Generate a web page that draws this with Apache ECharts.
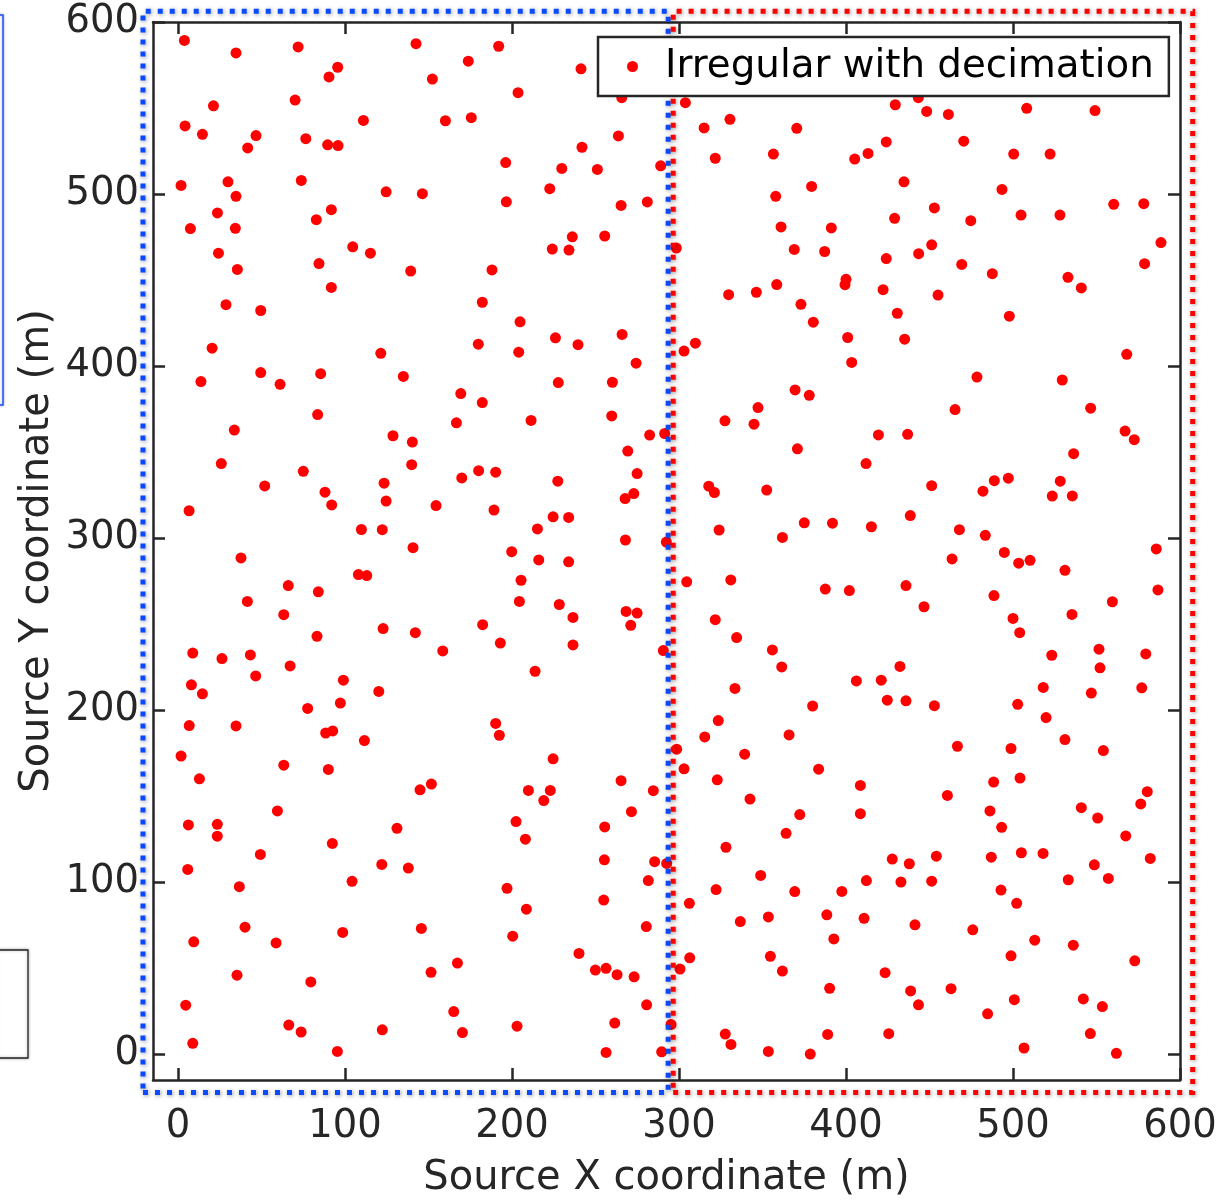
<!DOCTYPE html>
<html>
<head>
<meta charset="utf-8">
<script src="https://cdn.jsdelivr.net/npm/echarts@6/dist/echarts.min.js"></script>
<style>
html,body{margin:0;padding:0;background:#ffffff;}
#chart{width:1221px;height:1204px;}
</style>
</head>
<body>
<div id="chart"></div>
<script>
// ---- data ----
const seriesName = 'Irregular with decimation';
const xAxisTitle = 'Source X coordinate (m)';
const yAxisTitle = 'Source Y coordinate (m)';
const tickValues = [0, 100, 200, 300, 400, 500, 600];
const axisRange = [-15, 600];

// blue dotted frame (left half) and red dotted frame (right half), in data units
const blueFrameX = [-21, 293.5];
const redFrameX = [296.5, 607.6];
const frameY = [-22.3, 606.3];

// source points
const pointsLeftTop = [
[3.8,589.3],[34.7,582],[71.9,585.5],[142.5,587.4],[192,585.9],[95.6,573.7],[90.4,568.1],[173.8,577.2],[152.3,566.8],[21.2,551.3],
[70.1,554.6],[4.2,539.6],[14.6,534.7],[46.7,534],[41.7,526.8],[76.5,532.2],[89.6,528.6],[95.8,528.2],[111,542.8],[160.1,542.6],
[175.6,544.4],[1.8,505],[29.9,507.1],[34.7,498.7],[73.8,507.9],[124.6,501.3],[146.3,500.2],[23.6,489],[7.4,479.9],[34.3,480.1],
[91.8,490.9],[82.8,485.1],[24.2,465.6],[35.5,456.2],[104.6,469.3],[115.2,465.6],[84.4,459.6],[91.8,445.7],[139.3,455.2],[188,455.9],
[28.7,435.7],[49.5,432.3],[182.2,437.1],[20.4,410.4],[121.4,407.4],[179.8,412.7],[49.5,396.2],[85.4,395.6],[134.9,394],[13.7,391]
];
const pointsLeftMid = [
[61.1,389.4],[169.3,384],[182.2,378.8],[83.6,371.8],[166.7,367],[33.7,362.8],[128.7,359.5],[140.3,355.8],[25.9,343.3],[75,338.8],
[139.9,342.7],[180,339.2],[190.2,338.3],[169.9,335],[51.9,330.3],[123.4,331.9],[88,326.7],[92,319.3],[124.6,321.5],[154.5,318.9],
[189.2,316.3],[6.6,315.9],[109.8,305],[122.3,304.9],[140.7,294.4],[37.7,288.5],[108,278.8],[113,278.2],[66,272.4],[84,268.8],
[41.5,263.2],[63.3,255.5],[122.8,247.4],[142.1,245],[182.4,249.7],[193,239],[83.2,242.9],[158.5,234.4],[8.8,233.2],[26.3,230],
[43.3,232.1],[67.1,225.7],[46.5,219.9],[8,214.7],[14.6,209.5],[99,217.4],[120.2,210.9],[77.6,201],[97.2,204.1],[6.7,191],
[34.7,190.8],[190.2,192.3]
];
const pointsLeftLow = [
[88.4,186.7],[92.6,187.9],[111.6,182.3],[192.4,185.4],[1.8,173.3],[63.3,168],[90,165.5],[12.8,160.1],[144.9,153.7],[151.7,157],
[59.5,141.4],[6.2,133.3],[23.5,133.6],[23.5,126.7],[131.1,131.3],[92.4,122.5],[49.3,116.1],[122,110.3],[137.9,108.2],[5.8,107.4],
[104.2,100.5],[36.7,97.4],[40.1,73.8],[9.4,65.3],[58.7,64.7],[98.6,70.8],[145.7,73.1],[167.3,53],[151.5,47.6],[35.3,45.9],
[79.5,42],[4.6,28.5],[165.1,24.8],[170.3,12.6],[66.3,16.9],[73.7,12.9],[122.3,14.2],[8.8,6.3],[95.4,1.6]
];
const pointsCenterTop = [
[241.3,572.8],[203.6,558.9],[265.7,556],[303.8,553.1],[315,538.4],[330.5,543.4],[370.5,538.2],[263.7,533.8],[241.9,527.2],[196.2,518.3],
[229.8,514.9],[251.1,514.3],[289,516.4],[321.7,520.8],[356.5,523.2],[379.4,504.4],[222.6,503.1],[196.6,495.5],[265.3,493.4],[281,495.4],
[357.9,498.7],[361.1,480.9],[391.2,480.3],[236.1,475.1],[255.5,475.6],[224.1,468],[234.1,467.4],[298.4,468.6],[369,467.8],[387.2,466.6],
[329.7,441.5],[346.3,442.9],[358.5,447.4],[373,435.9],[380.4,425.5],[204.8,425.7],[226,416.4],[239.5,412.4],[265.9,418.4],[204,408.1],
[274.3,401.7],[303,408.7],[309.8,413.3]
];
const pointsCenterMid = [
[227.7,390.4],[260.1,390.6],[369.5,386.1],[378,383],[347.3,375.9],[211.4,368.4],[259.7,371],[327.5,368.2],[344.9,366.2],[282.4,359.9],
[291.4,360.8],[370.9,351.9],[269.3,350.6],[227.4,333.1],[274.9,337.5],[272.9,325.9],[267.7,323],[317.8,330.2],[321.2,326.5],[352.5,327.9],
[224.6,312.4],[233.9,312],[215.2,305.3],[267.9,298.9],[292.4,297.7],[324,304.7],[375,308.9],[391.9,308.7],[361.9,300.4],[199.8,292.1],
[216,287.3],[233.9,286.2],[205.4,275.5],[304.6,274.6],[331,275.7],[387.6,270.4],[204.4,263.2],[228.3,261.4],[236.5,253.9],[268.3,257.4],
[274.9,256.4],[271.1,249.3],[321.7,252.6],[334.5,242.2],[236.5,237.9],[290.6,234.6],[355.9,235],[361.5,225.1],[213.8,222.6],[333.5,212.6],
[380,202.4],[323.5,193.9]
];
const pointsCenterLow = [
[315.4,184.4],[365.9,185.6],[298.6,177.3],[339.3,174.4],[383.6,165.7],[224.6,171.7],[303,165.9],[322.9,159.5],[342.5,148.3],[372.3,139.3],
[364.1,128.4],[328.1,120.3],[209.8,153.3],[222.9,153.3],[219,147.4],[265.3,159],[284.6,153.2],[271.5,141],[202.4,135.2],[208,125],
[255.5,132.1],[255.3,113],[285.4,111.9],[292.6,110.9],[281.6,100.9],[348.9,103.9],[322.2,95.7],[369.3,94.5],[397.5,94.6],[197,96.4],
[208.6,84.3],[254.9,89.6],[306.2,87.7],[336.7,77.1],[353.5,79.8],[388.5,81],[392.7,67],[200.4,68.6],[280.4,74.2],[240.1,58.6],
[249.9,48.9],[256.3,49.9],[262.9,46.2],[273.1,45],[306.4,56],[300.6,49.5],[354.7,56.9],[361.9,48.3],[390.2,38.3],[280.6,28.7],
[203,16.3],[261.5,18.1],[295.2,17.3],[327.7,11.7],[331.1,5.7],[353.5,1.6],[378.6,0.1],[389,11.5],[256.3,1],[289.6,1.4]
];
const pointsRightTop = [
[443.3,556],[429.5,551.9],[448.3,548],[461.3,546.3],[508.2,549.8],[549.1,548.5],[424.1,530.3],[413.2,523.6],[405.2,520.3],[470.5,530.7],
[500.4,523.2],[522.2,523.2],[434.7,507.1],[493.4,502.7],[560.3,494],[578.3,494.4],[452.9,491.9],[429.1,485.9],[474.7,484.5],[504.8,487.8],
[528.1,487.8],[588.6,471.8],[578.8,459.5],[451.3,470.5],[443.5,465.3],[424.1,462.5],[469.3,459.1],[487.6,453.7],[532.9,451.6],[540.9,445.4],
[400,450.4],[399.4,447.3],[422.2,444.4],[455.1,441.3],[430.7,430.7],[497.8,429],[401,416.6],[435.1,415.6],[403.4,402.1],[568.1,406.8]
];
const pointsRightMid = [
[478.4,393.6],[529.5,391.9],[465.3,374.7],[546.5,375.5],[419.4,360],[436.9,360.3],[567.1,362.2],[572.6,357.2],[412,343.3],[536.3,349.1],
[451.3,330.5],[488.8,333.4],[497.2,334.8],[482,327.3],[528.3,333.1],[523.5,324.4],[535.5,324.5],[415.2,306.6],[438.5,313.1],[467.9,304.9],
[483.4,301.6],[494.8,291.7],[503.4,285.4],[510.2,287.1],[531.1,281.3],[585.8,293.7],[463.5,287.9],[402,269.5],[435.9,272.4],[488.6,266.6],
[586.8,269.9],[446.7,260.1],[559.5,263],[500,253.3],[535.3,255.6],[504,245],[523.2,231.9],[551.5,235.4],[579.5,232.7],[432.3,225.4],
[552.1,224.6],[406.2,217],[421.1,217.4],[518.1,213.2],[577.1,213],[546.9,209.9],[424.7,205.8],[435.9,205.4],[452.9,202.6],[502.8,203.4],
[519.8,195.7]
];
const pointsRightLow = [
[531.1,182.9],[554.1,176.5],[466.7,179],[498.8,177.7],[408.6,156.2],[408.6,139.8],[460.7,150.4],[488.4,158.2],[504.2,160.5],[486.2,141.4],
[493.2,131.9],[540.9,143.3],[550.7,137.3],[580.4,152.6],[576.5,145.5],[567.5,126.9],[582.2,113.8],[427.7,113.4],[437.9,110.7],[454.1,115.1],
[487,114.5],[505,117.1],[518,116.7],[548.7,110.1],[557.1,102.2],[533.1,101.4],[412.2,100.9],[432.9,100.1],[451.3,100.6],[502.2,87.7],
[492.8,95.4],[410.8,79],[441.3,75.2],[475.9,72.3],[513,66.3],[536.1,63.4],[498.8,57.2],[572.9,54.3],[423.4,47.4],[438.7,36.8],
[443.4,28.7],[462.9,38.1],[500.8,31.7],[542.1,32.1],[553.5,27.7],[484.8,23.5],[425.6,11.9],[546.3,12],[506.6,3.6],[561.9,0.5]
];

// ---- build ----
const allPoints = [].concat(pointsLeftTop, pointsLeftMid, pointsLeftLow,
  pointsCenterTop, pointsCenterMid, pointsCenterLow,
  pointsRightTop, pointsRightMid, pointsRightLow);

const FONT = "'DejaVu Sans', Verdana, sans-serif";
const INK = '#262626';
const FS = 38.5;
const FS_TITLE = 40;
const axisLineStyle = { color: INK, width: 2.5 };

function makeXAxis(pos, main) {
  return {
    type: 'value', min: axisRange[0], max: axisRange[1], position: pos,
    axisLine: { show: true, onZero: false, lineStyle: axisLineStyle },
    axisTick: { show: true, inside: true, length: 12, customValues: tickValues, lineStyle: axisLineStyle },
    axisLabel: main ? { show: true, customValues: tickValues, fontSize: FS, color: INK, fontFamily: FONT, margin: 27 } : { show: false },
    splitLine: { show: false },
    name: main ? xAxisTitle : '', nameLocation: 'middle', nameGap: 79, nameMoveOverlap: false,
    nameTextStyle: { fontSize: FS_TITLE, color: INK, fontFamily: FONT }
  };
}
function makeYAxis(pos, main) {
  return {
    type: 'value', min: axisRange[0], max: axisRange[1], position: pos,
    axisLine: { show: true, onZero: false, lineStyle: axisLineStyle },
    axisTick: { show: true, inside: true, length: 12, customValues: tickValues, lineStyle: axisLineStyle },
    axisLabel: main ? { show: true, customValues: tickValues, fontSize: FS, color: INK, fontFamily: FONT, margin: 14 } : { show: false },
    splitLine: { show: false },
    name: main ? yAxisTitle : '', nameLocation: 'middle', nameGap: 95, nameRotate: 90, nameMoveOverlap: false,
    nameTextStyle: { fontSize: FS_TITLE, color: INK, fontFamily: FONT }
  };
}

const chart = echarts.init(document.getElementById('chart'), null, { renderer: 'canvas' });
chart.setOption({
  animation: false,
  backgroundColor: '#ffffff',
  grid: { left: 153, right: 41, top: 22, bottom: 120, containLabel: false },
  xAxis: [makeXAxis('bottom', true), makeXAxis('top', false)],
  yAxis: [makeYAxis('left', true), makeYAxis('right', false)],
  legend: {
    data: [seriesName],
    left: 598, top: 37,
    padding: [10, 15, 10, 29],
    itemWidth: 11, itemHeight: 11, icon: 'circle',
    backgroundColor: '#ffffff', borderColor: INK, borderWidth: 2.5, borderRadius: 0,
    textStyle: { fontSize: 38.8, color: '#000000', fontFamily: FONT, padding: [0, 0, 0, 22] },
    z: 10
  },
  series: [
    {
      name: seriesName, type: 'scatter', data: allPoints,
      symbol: 'circle', symbolSize: 11,
      itemStyle: { color: '#ff0000', opacity: 1 }, z: 2
    }
  ]
});

// dotted frames, placed through the axes' own data->pixel conversion
function framePixels(xr, yr) {
  const c = [[xr[0], yr[0]], [xr[1], yr[0]], [xr[1], yr[1]], [xr[0], yr[1]], [xr[0], yr[0]]];
  return c.map(p => chart.convertToPixel({ xAxisIndex: 0, yAxisIndex: 0 }, p));
}
function frameElement(xr, yr, color) {
  return {
    type: 'polyline', z: 5, silent: true,
    shape: { points: framePixels(xr, yr) },
    style: { fill: null, stroke: color, lineWidth: 5, lineDash: [5, 7], lineCap: 'butt',
      shadowBlur: 4, shadowColor: 'rgba(0,0,0,0.4)', shadowOffsetX: 1, shadowOffsetY: 1 }
  };
}
chart.setOption({
  graphic: [
    { type: 'rect', z: 1, silent: true, shape: { x: -3, y: 15, width: 6, height: 390 },
      style: { fill: '#ffffff', stroke: '#1f4fff', lineWidth: 1.5, shadowBlur: 3, shadowColor: 'rgba(0,0,0,0.3)' } },
    { type: 'rect', z: 1, silent: true, shape: { x: -3, y: 950, width: 31, height: 108 },
      style: { fill: '#ffffff', stroke: '#222222', lineWidth: 1.3, shadowBlur: 3, shadowColor: 'rgba(0,0,0,0.3)' } },
    frameElement(blueFrameX, frameY, '#0a4bff'),
    frameElement(redFrameX, frameY, '#ff0000')
  ]
});
</script>
</body>
</html>
